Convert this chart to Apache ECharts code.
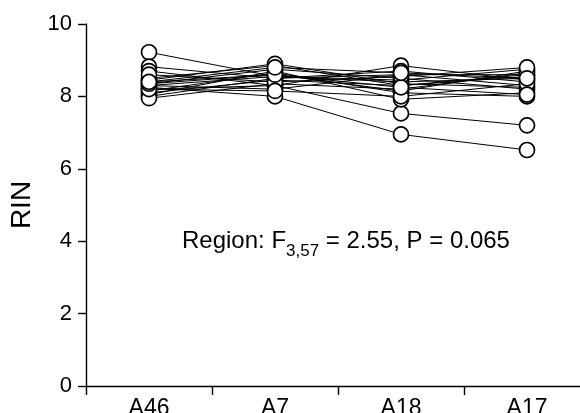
<!DOCTYPE html>
<html>
<head>
<meta charset="utf-8">
<script src="https://cdn.jsdelivr.net/npm/echarts@6/dist/echarts.min.js"></script>
<style>
  html, body { margin: 0; padding: 0; background: #fff; }
  #chart { width: 580px; height: 413px; }
</style>
</head>
<body>
<div id="chart"></div>
<script>
// brain regions on the x axis
const regions = ["A46", "A7", "A18", "A17"];
const yTicks = [0, 2, 4, 6, 8, 10];

// one array per subject, RIN per region
const s01 = [9.22, 8.55, 8.40, 8.50];
const s02 = [8.82, 8.50, 8.60, 8.30];
const s03 = [8.70, 8.30, 8.85, 8.45];
const s04 = [8.50, 8.85, 8.30, 8.60];
const s05 = [8.40, 8.60, 8.15, 8.70];
const s06 = [8.35, 8.75, 8.50, 8.20];
const s07 = [8.30, 8.20, 8.60, 8.60];
const s08 = [8.30, 8.55, 8.45, 8.75];
const s09 = [8.25, 8.00, 6.95, 6.52];
const s10 = [8.20, 8.30, 7.53, 7.20];
const s11 = [8.15, 8.65, 8.10, 8.00];
const s12 = [8.10, 8.45, 8.30, 8.55];
const s13 = [8.05, 8.70, 7.92, 8.10];
const s14 = [8.00, 8.50, 8.70, 8.40];
const s15 = [7.95, 8.35, 8.20, 8.65];
const s16 = [8.45, 8.90, 8.35, 8.25];
const s17 = [8.60, 8.40, 8.55, 8.80];
const s18 = [8.20, 8.15, 8.00, 8.35];
const s19 = [8.35, 8.60, 8.25, 8.05];
const s20 = [8.40, 8.80, 8.65, 8.50];

const subjects = [s01, s02, s03, s04, s05, s06, s07, s08, s09, s10,
                  s11, s12, s13, s14, s15, s16, s17, s18, s19, s20];

const font = "Liberation Sans, Arial, sans-serif";

let myChart = echarts.init(document.getElementById("chart"));

myChart.setOption({
  animation: false,
  grid: {
    left: 86,
    top: 24,
    width: 504,
    height: 362,
    containLabel: false,
    outerBoundsMode: "none",
  },
  xAxis: {
    type: "category",
    data: regions,
    boundaryGap: true,
    axisLine: { lineStyle: { color: "#000", width: 1.4 } },
    axisTick: { show: true, interval: 0, length: 9, lineStyle: { color: "#000", width: 1.4 } },
    axisLabel: { color: "#000", fontSize: 23, fontFamily: font, margin: 11 },
  },
  yAxis: {
    type: "value",
    min: yTicks[0],
    max: yTicks[yTicks.length - 1],
    interval: 2,
    name: "RIN",
    nameLocation: "middle",
    nameGap: 50,
    nameTextStyle: { color: "#000", fontSize: 28, fontFamily: font },
    axisLine: { show: true, lineStyle: { color: "#000", width: 1.4 } },
    axisTick: { show: true, length: 8, lineStyle: { color: "#000", width: 1.4 } },
    axisLabel: { color: "#000", fontSize: 22, fontFamily: font, margin: 14 },
    splitLine: { show: false },
  },
  graphic: [
    {
      type: "text",
      left: 182,
      top: 229,
      style: {
        text: "{a|Region: F}{s|3,57}{a| = 2.55, P = 0.065}",
        rich: {
          a: { fontSize: 24, fontFamily: font, fill: "#000", verticalAlign: "bottom" },
          s: { fontSize: 17, fontFamily: font, fill: "#000", verticalAlign: "bottom", padding: [0, 0, -7, 0] },
        },
      },
    },
  ],
  series: subjects.map((vals, i) => ({
    name: "S" + (i + 1),
    type: "line",
    data: vals,
    symbol: "circle",
    symbolSize: 15,
    lineStyle: { color: "#000", width: 1 },
    itemStyle: { color: "#fff", borderColor: "#000", borderWidth: 1.7 },
    emphasis: { disabled: true },
  })),
});
</script>
</body>
</html>
